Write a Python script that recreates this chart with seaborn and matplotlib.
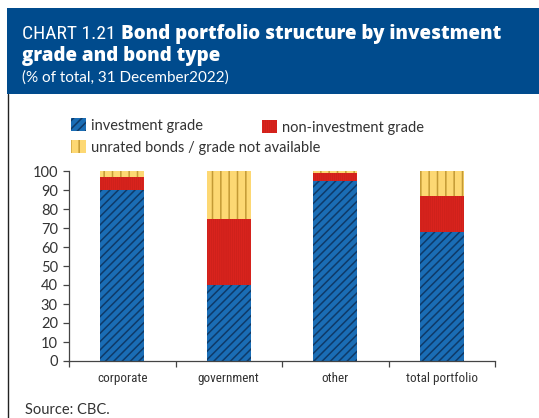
import matplotlib
matplotlib.use("Agg")
import matplotlib.pyplot as plt
from matplotlib.patches import Rectangle, Patch
import seaborn as sns
import numpy as np
import pandas as pd

# --- data (% of total, 31 December 2022) ---
categories = ["corporate", "government", "other", "total portfolio"]
investment_grade = [90, 40, 95, 68]
non_investment_grade = [7, 35, 4, 19]
unrated = [3, 25, 1, 13]
y_ticks = [0, 10, 20, 30, 40, 50, 60, 70, 80, 90, 100]

BANNER = "#004b8d"
BLUE = "#1a6db5"
BLUE_HATCH = "#0e3a68"
RED = "#e2261f"
RED_HATCH = "#cf211b"
YELLOW = "#fdd873"
YELLOW_HATCH = "#c49a35"
TEXT = "#333333"
NARROW = ["DejaVu Sans Condensed", "Liberation Sans Narrow", "Roboto Condensed",
          "Open Sans Condensed", "Lato"]

sns.set_theme(style="white")
plt.rcParams["font.family"] = ["Lato", "DejaVu Sans"]
plt.rcParams["hatch.linewidth"] = 1.1

W, H = 539, 418
fig = plt.figure(figsize=(W / 100, H / 100), dpi=100)
renderer = fig.canvas.get_renderer()


def fx(px):
    return px / W


def fy(py):
    return 1 - py / H


def width_px(t):
    return t.get_window_extent(renderer=renderer).width


# title banner and frame line
fig.add_artist(Rectangle((fx(7), fy(94)), fx(W) - fx(7), fy(8) - fy(94),
                         transform=fig.transFigure, facecolor=BANNER,
                         edgecolor="none", zorder=0))
fig.add_artist(plt.Line2D([fx(7.5), fx(7.5)], [fy(94), 0], transform=fig.transFigure,
                          color="#222222", linewidth=1.0))

head = fig.text(fx(22), fy(39), "CHART 1.21", color="white", fontsize=14,
                va="baseline", ha="left", family=NARROW)
head_w = width_px(head)
bold1 = fig.text(fx(22 + head_w + 5), fy(39), "Bond portfolio structure by investment",
                 color="white", fontsize=14, fontweight="heavy",
                 va="baseline", ha="left", family=["Open Sans", "DejaVu Sans"])
# size the bold heading so that its first line ends near the banner's right side
target = 503 - (22 + head_w + 5)
scale = target / width_px(bold1)
bold_size = 14 * scale
bold1.set_fontsize(bold_size)
fig.text(fx(22), fy(61), "grade and bond type", color="white",
         fontsize=bold_size, fontweight="heavy", va="baseline", ha="left",
         family=["Open Sans", "DejaVu Sans"])
fig.text(fx(22), fy(82), "(% of total, 31 December2022)", color="white",
         fontsize=11, va="baseline", ha="left")
fig.text(fx(25), fy(414), "Source: CBC.", color=TEXT, fontsize=10.5,
         va="baseline", ha="left")

# plot area
ax = fig.add_axes([fx(69), fy(361), fx(495) - fx(69), fy(171) - fy(361)])

df = pd.DataFrame({
    "category": categories,
    "ig": investment_grade,
    "nig": non_investment_grade,
    "unr": unrated,
})
df["top_nig"] = df["ig"] + df["nig"]
df["top_unr"] = df["top_nig"] + df["unr"]

layers = [
    ("top_unr", YELLOW, YELLOW_HATCH, "||"),
    ("top_nig", RED, RED_HATCH, "||||||||"),
    ("ig", BLUE, BLUE_HATCH, "////"),
]
n_done = 0
for col, fc, hc, hatch in layers:
    sns.barplot(data=df, x="category", y=col, color=fc, saturation=1,
                width=0.41, ax=ax, linewidth=0, edgecolor=hc, hatch=hatch)
    for p in ax.patches[n_done:]:
        p.set_facecolor(fc)
        p.set_edgecolor(hc)
        p.set_linewidth(0)
        p.set_hatch(hatch)
    n_done = len(ax.patches)

ax.set_xlim(-0.5, 3.5)
ax.set_ylim(0, 100)
ax.set_yticks(y_ticks)
ax.set_xlabel("")
ax.set_ylabel("")
for s in ["top", "right"]:
    ax.spines[s].set_visible(False)
for s in ["left", "bottom"]:
    ax.spines[s].set_color("#444444")
    ax.spines[s].set_linewidth(0.9)
ax.set_xticks(range(len(categories)))
ax.set_xticklabels(categories, family=NARROW, fontsize=9.5, color=TEXT)
ax.set_xticks(np.arange(-0.5, len(categories)), minor=True)
ax.tick_params(axis="x", which="major", length=0, pad=8)
ax.tick_params(axis="x", which="minor", length=4, width=0.9, color="#444444",
               direction="out", bottom=True)
ax.tick_params(axis="y", length=4, width=0.9, color="#444444", direction="out",
               left=True, labelsize=10.5, labelcolor=TEXT, pad=4)

# legend entries
entries = [
    ("investment grade", BLUE, BLUE_HATCH, "////", 71, 118),
    ("non-investment grade", RED, RED_HATCH, "||||||||", 262, 120),
    ("unrated bonds / grade not available", YELLOW, YELLOW_HATCH, "||", 71, 140),
]
for label, fc, hc, hatch, x0, y0 in entries:
    h = Patch(facecolor=fc, edgecolor=hc, hatch=hatch, linewidth=0)
    leg = fig.legend([h], [label], loc="upper left",
                     bbox_to_anchor=(fx(x0), fy(y0)), frameon=False,
                     borderpad=0, borderaxespad=0, handlelength=1.0,
                     handleheight=1.0, handletextpad=0.4, fontsize=10.5)
    for t in leg.get_texts():
        t.set_color(TEXT)

fig.savefig("out.png", dpi=100)
